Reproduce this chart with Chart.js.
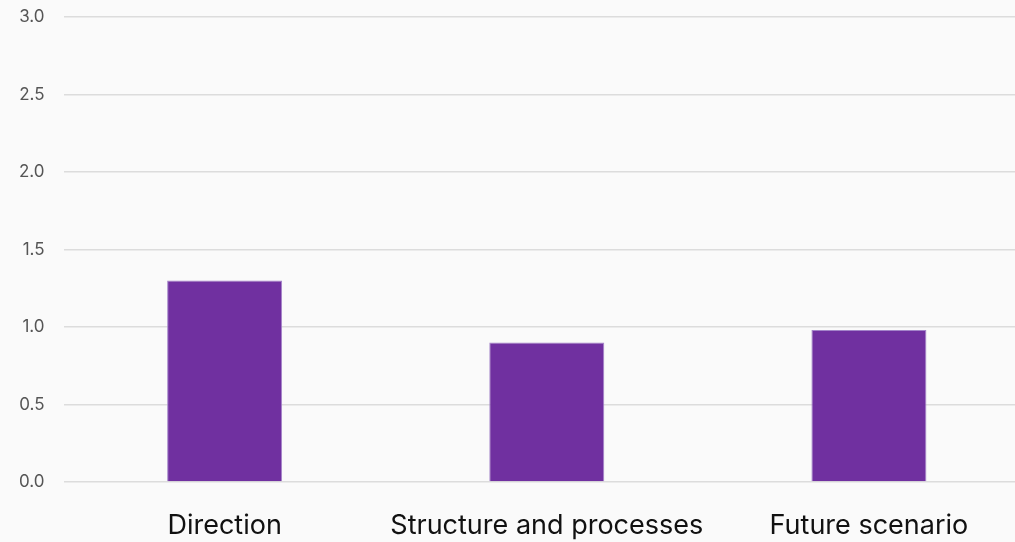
<!DOCTYPE html>
<html>
<head>
<meta charset="utf-8">
<script src="https://cdn.jsdelivr.net/npm/chart.js@4/dist/chart.umd.min.js"></script>
<style>
  html, body { margin: 0; padding: 0; background: #fafafa; overflow: hidden; }
  #wrap { position: relative; width: 1030px; height: 542px; }
</style>
</head>
<body>
<div id="wrap"><canvas id="c"></canvas></div>
<script>
const categories = ["Direction", "Structure and processes", "Future scenario"];
const values = [1.3, 0.9, 0.98];
const yTicks = [0, 0.5, 1.0, 1.5, 2.0, 2.5, 3.0];

new Chart(document.getElementById('c'), {
  type: 'bar',
  data: {
    labels: categories,
    datasets: [{
      data: values,
      backgroundColor: '#7030a0',
      borderColor: '#a384c9',
      borderWidth: 1,
      borderSkipped: 'bottom',
      categoryPercentage: 1,
      barPercentage: 0.357
    }]
  },
  options: {
    responsive: true,
    maintainAspectRatio: false,
    animation: false,
    layout: { padding: { top: 17, bottom: 0, left: 0, right: 0 } },
    plugins: { legend: { display: false }, tooltip: { enabled: false } },
    scales: {
      x: {
        grid: { display: false },
        border: { display: false },
        ticks: { color: '#111', font: { family: 'Inter', size: 27 }, padding: 20, maxRotation: 0 },
        afterFit: (s) => { s.height = 60; }
      },
      y: {
        min: 0, max: 3,
        afterBuildTicks: (s) => { s.ticks = yTicks.map(v => ({ value: v })); },
        grid: { color: '#dcdcdc', lineWidth: 1.5, drawTicks: false },
        border: { display: false },
        ticks: {
          color: '#555', font: { family: 'Inter', size: 17 }, padding: 19,
          callback: (v) => Number(v).toFixed(1)
        },
        afterFit: (s) => { s.paddingTop = 0; s.paddingBottom = 0; }
      }
    }
  }
});
</script>
</body>
</html>
